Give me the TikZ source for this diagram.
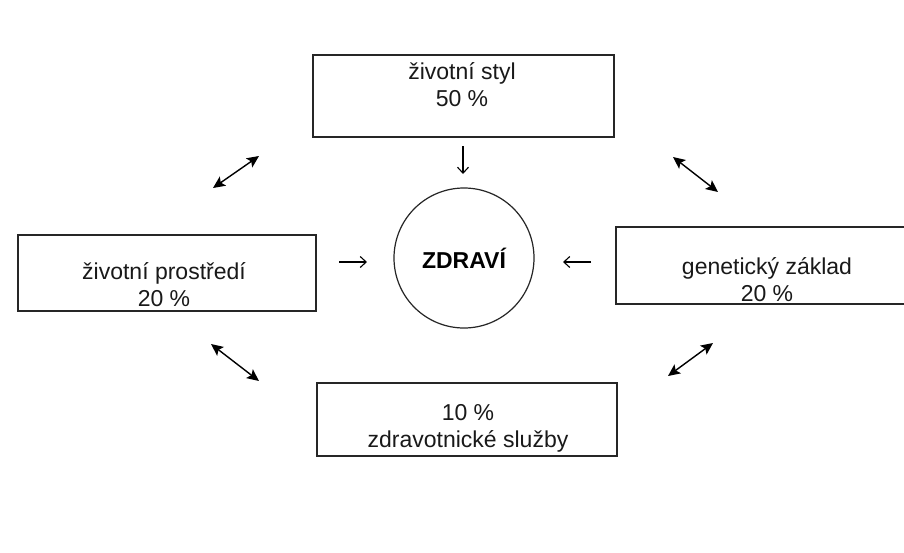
\documentclass[tikz,border=0pt]{standalone}
\usepackage{fontspec}
\setmainfont{Liberation Sans}
\usetikzlibrary{arrows.meta}
\begin{document}
\begin{tikzpicture}[x=1pt,y=-1pt,
  factorbox/.style={draw=black!85, line width=1.6pt, rectangle, inner sep=0pt},
  boxtext/.style={font=\fontsize{23}{27}\selectfont, align=center, inner sep=0pt, text=black!90},
  healthcircle/.style={draw=black!85, line width=1.2pt, circle, minimum size=140pt, inner sep=0pt,
     font=\bfseries\fontsize{23}{26}\selectfont},
  inarrow/.style={line width=1.1pt, -{Straight Barb[length=6pt,width=11pt]}},
  twoway/.style={line width=1.4pt, {Stealth[length=12pt,width=11pt,inset=2.5pt]}-{Stealth[length=12pt,width=11pt,inset=2.5pt]}}
]
\useasboundingbox[fill=white] (0,0) rectangle (904,552);

% boxes
\node[factorbox, minimum width=301pt, minimum height=82pt] (styl) at (463.5,96) {};
\node[factorbox, minimum width=298pt, minimum height=76pt] (prostredi) at (167,273) {};
\node[factorbox, minimum width=300pt, minimum height=77pt, anchor=west] (geny) at (615,265.5) {};
\node[factorbox, minimum width=300pt, minimum height=73pt] (sluzby) at (467,419.5) {};

% texts
\node[boxtext] (stylt) at (462,85) {životní styl\\50 \%};
\node[boxtext] (prostredit) at (164,285) {životní prostředí\\20 \%};
\node[boxtext] (genyt) at (767,280) {genetický základ\\20 \%};
\node[boxtext] (sluzbyt) at (468,428) {10 \%\\zdravotnické služby};

% centre
\node[healthcircle] (zdravi) at (464,258) {ZDRAVÍ};

% arrow end points
\coordinate (d1) at (463,146);
\coordinate (d2) at (463,174);
\coordinate (l1) at (339,262);
\coordinate (l2) at (367,262);
\coordinate (r1) at (591,262);
\coordinate (r2) at (563,262);

\coordinate (tl1) at (213,188);
\coordinate (tl2) at (259,156);
\coordinate (tr1) at (673,157);
\coordinate (tr2) at (718,192);
\coordinate (bl1) at (211,344);
\coordinate (bl2) at (259,381);
\coordinate (br1) at (668,376);
\coordinate (br2) at (713,343);

\draw[inarrow] (d1) -- (d2);
\draw[inarrow] (l1) -- (l2);
\draw[inarrow] (r1) -- (r2);

\draw[twoway] (tl1) -- (tl2);
\draw[twoway] (tr1) -- (tr2);
\draw[twoway] (bl1) -- (bl2);
\draw[twoway] (br1) -- (br2);
\end{tikzpicture}
\end{document}
